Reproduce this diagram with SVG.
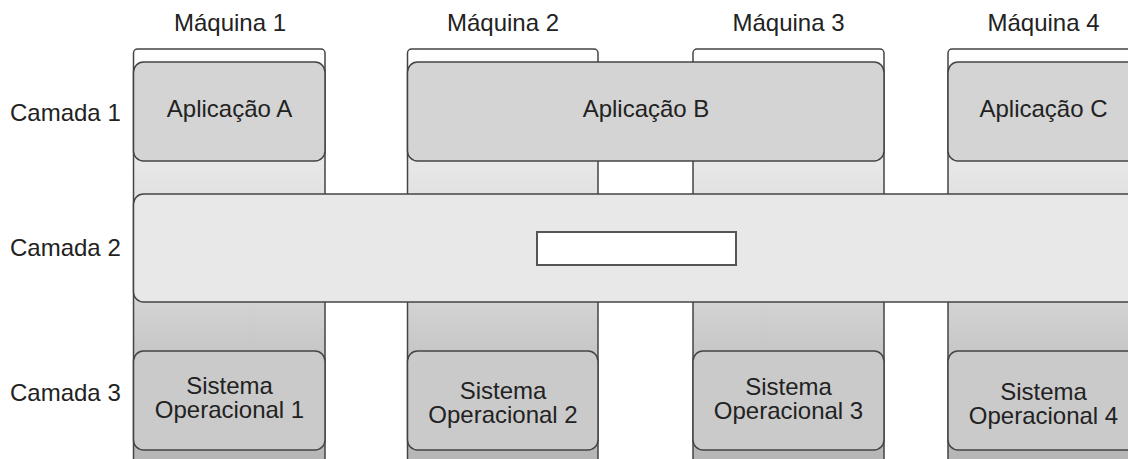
<svg xmlns="http://www.w3.org/2000/svg" width="1128" height="459" viewBox="0 0 1128 459">
  <defs>
    <linearGradient id="colGrad" gradientUnits="userSpaceOnUse" x1="0" y1="49" x2="0" y2="459">
      <stop offset="0" stop-color="#ffffff"/>
      <stop offset="0.27" stop-color="#e8e8e8"/>
      <stop offset="0.354" stop-color="#e2e2e2"/>
      <stop offset="0.617" stop-color="#d3d3d3"/>
      <stop offset="0.734" stop-color="#c7c7c7"/>
      <stop offset="1" stop-color="#b6b6b6"/>
    </linearGradient>
  </defs>
  <style>
    .col { fill: url(#colGrad); stroke: #444; stroke-width: 1.5; }
    .app { fill: #d4d4d4; stroke: #444; stroke-width: 1.5; }
    .mid { fill: #e8e8e8; stroke: #444; stroke-width: 1.5; }
    .so { fill: #cacaca; stroke: #444; stroke-width: 1.5; }
    .inner { fill: #ffffff; stroke: #555; stroke-width: 2; }
    text { font-family: "Liberation Sans", Arial, sans-serif; font-size: 24px; fill: #222; }
    .c { text-anchor: middle; }
  </style>
  <rect width="1128" height="459" fill="#ffffff"/>

  <g id="labels">
    <text class="c" x="230" y="31">Máquina 1</text>
    <text class="c" x="503" y="31">Máquina 2</text>
    <text class="c" x="788.5" y="31">Máquina 3</text>
    <text class="c" x="1043.5" y="31">Máquina 4</text>
    <text x="10" y="121">Camada 1</text>
    <text x="10" y="256">Camada 2</text>
    <text x="10" y="401">Camada 3</text>
  </g>

  <g id="machine1"><rect class="col" x="133.5" y="49" width="191.5" height="430" rx="4"/></g>
  <g id="machine2"><rect class="col" x="407.5" y="49" width="190.5" height="430" rx="4"/></g>
  <g id="machine3"><rect class="col" x="693" y="49" width="191" height="430" rx="4"/></g>
  <g id="machine4"><rect class="col" x="948" y="49" width="191" height="430" rx="4"/></g>

  <g id="appA">
    <rect class="app" x="133.5" y="62" width="191.5" height="99" rx="10"/>
    <text class="c" x="229.5" y="117">Aplicação A</text>
  </g>
  <g id="appB">
    <rect class="app" x="407.5" y="62" width="476.5" height="99" rx="10"/>
    <text class="c" x="646" y="117">Aplicação B</text>
  </g>
  <g id="appC">
    <rect class="app" x="948" y="62" width="191" height="99" rx="10"/>
    <text class="c" x="1043.5" y="117">Aplicação C</text>
  </g>

  <g id="layer2">
    <rect class="mid" x="133.5" y="194" width="1010" height="108" rx="10"/>
    <rect class="inner" x="537" y="232" width="199" height="33"/>
  </g>

  <g id="so1">
    <rect class="so" x="133.5" y="351" width="191.5" height="99" rx="10"/>
    <text class="c" x="229.5" y="394">Sistema</text>
    <text class="c" x="229.5" y="418">Operacional 1</text>
  </g>
  <g id="so2">
    <rect class="so" x="407.5" y="351" width="190.5" height="99" rx="10"/>
    <text class="c" x="503" y="399">Sistema</text>
    <text class="c" x="503" y="423">Operacional 2</text>
  </g>
  <g id="so3">
    <rect class="so" x="693" y="351" width="191" height="99" rx="10"/>
    <text class="c" x="788.5" y="395">Sistema</text>
    <text class="c" x="788.5" y="419">Operacional 3</text>
  </g>
  <g id="so4">
    <rect class="so" x="948" y="351" width="191" height="99" rx="10"/>
    <text class="c" x="1043.5" y="400">Sistema</text>
    <text class="c" x="1043.5" y="424">Operacional 4</text>
  </g>

  <g id="connectors"/>
</svg>
